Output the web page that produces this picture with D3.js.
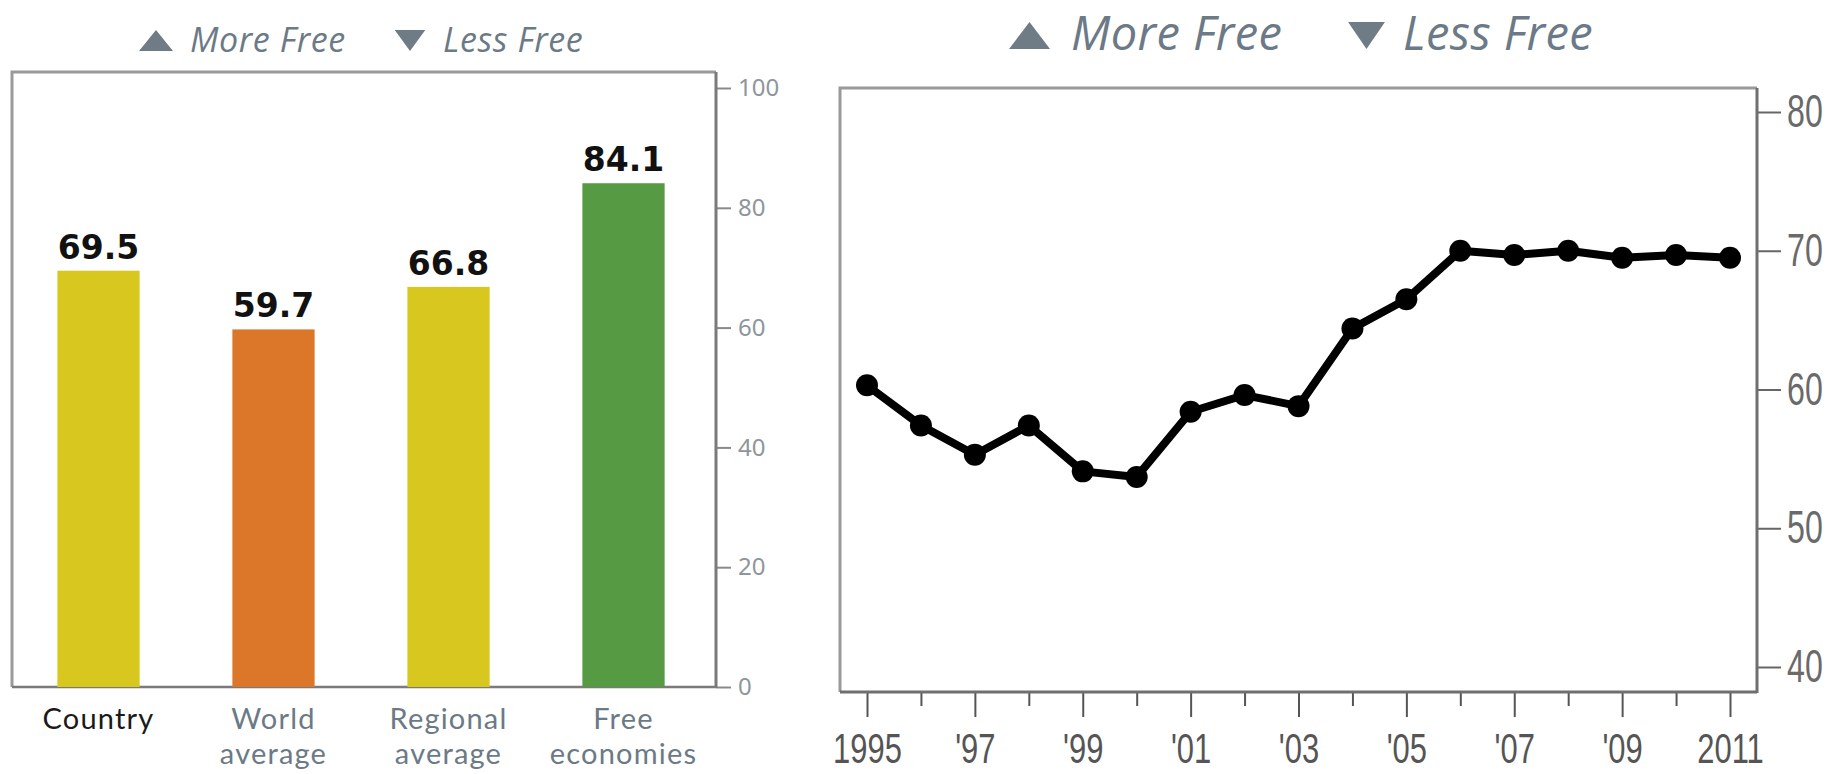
<!DOCTYPE html>
<html>
<head>
<meta charset="utf-8">
<script src="https://cdn.jsdelivr.net/npm/d3@7"></script>
<style>
  body { margin: 0; background: #fff; }
  svg { display: block; }
</style>
</head>
<body>
<div id="chart"></div>
<script>
// Data
const categories = ["Country", "World average", "Regional average", "Free economies"];
const scores = [69.5, 59.7, 66.8, 84.1];
const barColors = ["#d8c71f", "#dc772a", "#d8c71f", "#569a43"];
const barTicks = [0, 20, 40, 60, 80, 100];

const years = [1995, 1996, 1997, 1998, 1999, 2000, 2001, 2002, 2003, 2004, 2005, 2006, 2007, 2008, 2009, 2010, 2011];
const yearScores = [60.3, 57.4, 55.3, 57.4, 54.1, 53.7, 58.4, 59.6, 58.8, 64.4, 66.5, 70.0, 69.7, 70.0, 69.5, 69.7, 69.5];
const labelYears = [1995, 1997, 1999, 2001, 2003, 2005, 2007, 2009, 2011];
const yearLabels = ["1995", "'97", "'99", "'01", "'03", "'05", "'07", "'09", "2011"];
const minorYears = [1996, 1998, 2000, 2002, 2004, 2006, 2008, 2010];
const lineTicks = [40, 50, 60, 70, 80];

const W = 1845, H = 774;
const svg = d3.select("#chart").append("svg")
  .attr("width", W).attr("height", H);

const textBlue = "#6b7a86";

// little legend triangle
function tri(g, cx, cy, w, h, up) {
  const p = up
    ? [[cx - w / 2, cy + h / 2], [cx + w / 2, cy + h / 2], [cx, cy - h / 2]]
    : [[cx - w / 2, cy - h / 2], [cx + w / 2, cy - h / 2], [cx, cy + h / 2]];
  g.append("path").attr("d", "M" + p.join("L") + "Z").attr("fill", "#6f7b85");
}

// pos = [up triangle x, "More Free" x, down triangle x, "Less Free" x]
function legend(pos, base, size, tw, th, spacing) {
  const g = svg.append("g");
  tri(g, pos[0] + tw / 2, base - th / 2 - 1, tw, th, true);
  g.append("text").attr("x", pos[1]).attr("y", base)
    .attr("font-family", "Open Sans").attr("font-style", "italic")
    .attr("letter-spacing", spacing)
    .attr("font-size", size).attr("fill", textBlue).text("More Free");
  tri(g, pos[2] + tw / 2, base - th / 2 - 1, tw * 0.9, th, false);
  g.append("text").attr("x", pos[3]).attr("y", base)
    .attr("font-family", "Open Sans").attr("font-style", "italic")
    .attr("letter-spacing", spacing)
    .attr("font-size", size).attr("fill", textBlue).text("Less Free");
}

// ---------- left: bar chart ----------
const bx0 = 12, bx1 = 716, bTop = 72, bBottom = 687;

const x = d3.scaleBand()
  .domain(categories)
  .range([11, 711])
  .paddingInner(0.53)
  .paddingOuter(0.265);

const y = d3.scaleLinear()
  .domain([0, 100])
  .range([bBottom, 88]);

legend([139, 190, 393, 443], 52, 34, 34, 21, 0.6);

// frame
svg.append("path")
  .attr("d", `M${bx0},${bBottom}V${bTop}H${bx1}`)
  .attr("fill", "none").attr("stroke", "#9a9a9a").attr("stroke-width", 3);
svg.append("line")
  .attr("x1", bx0).attr("x2", bx1).attr("y1", bBottom).attr("y2", bBottom)
  .attr("stroke", "#7a7a7a").attr("stroke-width", 2.5);

svg.selectAll(".bar")
  .data(categories)
  .join("rect")
  .attr("class", "bar")
  .attr("x", d => x(d))
  .attr("y", (d, i) => y(scores[i]))
  .attr("width", x.bandwidth())
  .attr("height", (d, i) => bBottom - y(scores[i]))
  .attr("fill", (d, i) => barColors[i]);

svg.selectAll(".val")
  .data(categories)
  .join("text")
  .attr("class", "val")
  .attr("x", d => x(d) + x.bandwidth() / 2)
  .attr("y", (d, i) => y(scores[i]) - 12)
  .attr("text-anchor", "middle")
  .attr("font-family", "DejaVu Sans").attr("font-weight", "bold")
  .attr("font-size", 33).attr("fill", "#111")
  .text((d, i) => scores[i].toFixed(1));

// category labels, one text per line
categories.forEach((d, i) => {
  const cx = x(d) + x.bandwidth() / 2;
  d.split(" ").forEach((w, j) => {
    svg.append("text")
      .attr("x", cx)
      .attr("y", 729 + j * 35)
      .attr("text-anchor", "middle")
      .attr("font-family", "Lato")
      .attr("font-size", 29)
      .attr("letter-spacing", 1.2)
      .attr("fill", i === 0 ? "#1a1a1a" : textBlue)
      .text(w);
  });
});

// right value axis
const yAxis = svg.append("g")
  .attr("transform", `translate(${bx1},0)`)
  .call(d3.axisRight(y).tickValues(barTicks).tickSize(15).tickPadding(7).tickSizeOuter(0));
yAxis.select(".domain").remove();
yAxis.selectAll(".tick line").attr("stroke", "#8a8a8a").attr("stroke-width", 2);
yAxis.selectAll(".tick text")
  .attr("font-family", "Noto Sans").attr("font-size", 24).attr("fill", "#8e969c");
svg.append("line")
  .attr("x1", bx1).attr("x2", bx1).attr("y1", bTop).attr("y2", bBottom + 1)
  .attr("stroke", "#7a7a7a").attr("stroke-width", 3);

// ---------- right: line chart ----------
const lx0 = 840, lx1 = 1757, lTop = 88, lBottom = 692;

const xl = d3.scaleLinear()
  .domain([1995, 2011])
  .range([867, 1730]);

const yl = d3.scaleLinear()
  .domain([40, 80])
  .range([667, 112]);

legend([1009, 1071, 1346, 1403], 50, 47, 41, 27, 0.4);

svg.append("path")
  .attr("d", `M${lx0},${lBottom}V${lTop}H${lx1}`)
  .attr("fill", "none").attr("stroke", "#9a9a9a").attr("stroke-width", 3);

// x axis: long ticks with labels, short ticks between
const xMajor = svg.append("g")
  .attr("transform", `translate(0,${lBottom})`)
  .call(d3.axisBottom(xl).tickValues(labelYears).tickSize(25).tickSizeOuter(0)
    .tickFormat((d, i) => yearLabels[i]));
xMajor.select(".domain").remove();
xMajor.selectAll(".tick line").attr("stroke", "#555").attr("stroke-width", 2);
xMajor.selectAll(".tick text")
  .attr("y", 71).attr("dy", null)
  .attr("transform", "scale(0.72,1)")
  .attr("font-family", "Liberation Sans").attr("font-size", 43).attr("fill", "#555");

const xMinor = svg.append("g")
  .attr("transform", `translate(0,${lBottom})`)
  .call(d3.axisBottom(xl).tickValues(minorYears).tickSize(14).tickSizeOuter(0).tickFormat(""));
xMinor.select(".domain").remove();
xMinor.selectAll(".tick line").attr("stroke", "#555").attr("stroke-width", 2);

svg.append("line")
  .attr("x1", lx0).attr("x2", lx1).attr("y1", lBottom).attr("y2", lBottom)
  .attr("stroke", "#6f6f6f").attr("stroke-width", 3);

// right axis of the line chart
const yrAxis = svg.append("g")
  .attr("transform", `translate(${lx1},0)`)
  .call(d3.axisRight(yl).tickValues(lineTicks).tickSize(24).tickSizeOuter(0));
yrAxis.select(".domain").remove();
yrAxis.selectAll(".tick line").attr("stroke", "#666").attr("stroke-width", 2);
yrAxis.selectAll(".tick text")
  .attr("x", 30 / 0.7)
  .attr("transform", "scale(0.7,1)")
  .attr("font-family", "Liberation Sans").attr("font-size", 46).attr("fill", "#6a6a6a");
svg.append("line")
  .attr("x1", lx1).attr("x2", lx1).attr("y1", lTop).attr("y2", lBottom + 1)
  .attr("stroke", "#6f6f6f").attr("stroke-width", 3);

// the score line
const line = d3.line()
  .x((d, i) => xl(years[i]))
  .y(d => yl(d));

svg.append("path")
  .datum(yearScores)
  .attr("d", line)
  .attr("fill", "none")
  .attr("stroke", "#000")
  .attr("stroke-width", 8)
  .attr("stroke-linejoin", "round");

svg.selectAll(".pt")
  .data(yearScores)
  .join("circle")
  .attr("class", "pt")
  .attr("cx", (d, i) => xl(years[i]))
  .attr("cy", d => yl(d))
  .attr("r", 11)
  .attr("fill", "#000");
</script>
</body>
</html>
